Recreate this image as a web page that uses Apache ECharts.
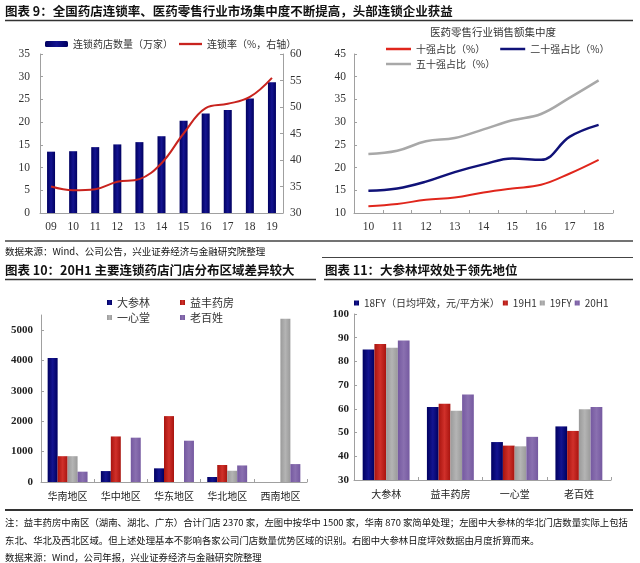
<!DOCTYPE html>
<html>
<head>
<meta charset="utf-8">
<script src="https://cdn.jsdelivr.net/npm/echarts@6/dist/echarts.min.js"></script>
<style>html,body{margin:0;padding:0;background:#fff;}#c{width:640px;height:563px;}</style>
</head>
<body>
<div id="c"></div>
<script>
// ---- Chart 9 (left): chain stores & chain rate ----
const years9 = ['09','10','11','12','13','14','15','16','17','18','19'];
const chainStores = [13.5, 13.6, 14.5, 15.1, 15.6, 16.9, 20.3, 21.9, 22.7, 25.2, 28.8];
const chainRate = [35.0, 34.3, 34.5, 35.9, 36.4, 39.4, 45.0, 49.8, 50.6, 51.9, 55.5];
// ---- Chart 9 (right): concentration ----
const years10 = ['10','11','12','13','14','15','16','17','18'];
const top10 = [11.5, 12.0, 12.9, 13.4, 14.5, 15.4, 16.2, 18.7, 21.7];
const top20 = [14.9, 15.4, 16.9, 19.0, 20.7, 22.0, 21.7, 26.8, 29.4];
const top50 = [23.0, 23.7, 25.8, 26.5, 28.4, 30.4, 31.8, 35.4, 39.2];
// ---- Chart 10: store distribution ----
const regions = ['华南地区','华中地区','华东地区','华北地区','西南地区'];
const dslStores = [4080, 360, 450, 165, 0];
const yfStores = [850, 1500, 2170, 560, 0];
const yxtStores = [850, 0, 0, 370, 5380];
const lbxStores = [340, 1460, 1360, 545, 590];
// ---- Chart 11: sales per sqm ----
const companies = ['大参林','益丰药房','一心堂','老百姓'];
const fy18 = [85.0, 60.8, 46.0, 52.6];
const h19 = [87.4, 62.2, 44.5, 50.7];
const fy19 = [85.8, 59.2, 44.2, 59.8];
const h20 = [88.8, 66.1, 48.2, 60.8];

const SERIF = 'Liberation Serif';
const SANS = 'Noto Sans CJK SC';
const axisLineC = '#a0a0a0';
const LINE_ICON = 'path://M0,0h40v4h-40z';

function grad(c1, c2) {
  return new echarts.graphic.LinearGradient(0, 0, 1, 0, [
    {offset: 0, color: c1}, {offset: 0.5, color: c2}, {offset: 1, color: c1}
  ]);
}
const navyG = grad('#000060', '#141490');
const redG = grad('#a8140f', '#d0302a');
const greyG = grad('#9a9a9a', '#b4b4b4');
const purpleG = grad('#7559a0', '#8a70b0');

function yAxisBase(extra) {
  return Object.assign({
    type: 'value',
    splitLine: {show: false},
    axisLine: {show: true, lineStyle: {color: axisLineC}},
    axisTick: {show: true, inside: true, length: 3, lineStyle: {color: axisLineC}},
    axisLabel: {fontFamily: SERIF, fontSize: 11, color: '#333', margin: 8}
  }, extra);
}
function xAxisBase(extra) {
  return Object.assign({
    type: 'category',
    axisLine: {show: true, lineStyle: {color: axisLineC}},
    axisTick: {show: true, inside: true, length: 3, lineStyle: {color: axisLineC}},
    axisLabel: {fontFamily: SERIF, fontSize: 11.5, color: '#333', margin: 8, interval: 0}
  }, extra);
}

const legText = {fontFamily: SANS, fontSize: 10, color: '#333'};
const plain = v => String(v);

const chart = echarts.init(document.getElementById('c'), null, {renderer: 'canvas'});
const option = {
  animation: false,
  backgroundColor: '#fff',
  grid: [
    {left: 40, right: 357, top: 54, bottom: 350},
    {left: 354, right: 27, top: 54, bottom: 350},
    {left: 41, right: 333, top: 315, bottom: 81},
    {left: 354, right: 29, top: 314, bottom: 83}
  ],
  xAxis: [
    xAxisBase({gridIndex: 0, data: years9, axisTick: {show: false}}),
    xAxisBase({gridIndex: 1, data: years10}),
    xAxisBase({gridIndex: 2, data: regions, axisLabel: {fontFamily: SANS, fontSize: 10, color: '#222', margin: 9, interval: 0}}),
    xAxisBase({gridIndex: 3, data: companies, axisLabel: {fontFamily: SANS, fontSize: 10, color: '#222', margin: 9, interval: 0}})
  ],
  yAxis: [
    yAxisBase({gridIndex: 0, min: 0, max: 35, interval: 5, axisLabel: {fontFamily: SERIF, fontSize: 11.5, color: '#333', margin: 10}}),
    yAxisBase({gridIndex: 0, min: 30, max: 60, interval: 5, position: 'right', axisLabel: {fontFamily: SERIF, fontSize: 11.5, color: '#333', margin: 7}}),
    yAxisBase({gridIndex: 1, min: 10, max: 45, interval: 5, axisLabel: {fontFamily: SERIF, fontSize: 11.5, color: '#333', margin: 8}}),
    yAxisBase({gridIndex: 2, min: 0, max: 5500, interval: 1000, axisLabel: {fontFamily: SERIF, fontSize: 11, fontWeight: 'bold', color: '#222', margin: 8, showMaxLabel: false, formatter: plain}}),
    yAxisBase({gridIndex: 3, min: 30, max: 100, interval: 10, axisLabel: {fontFamily: SERIF, fontSize: 11, fontWeight: 'bold', color: '#222', margin: 5, formatter: plain}})
  ],
  legend: [
    {data: [{name: '连锁药店数量（万家）', icon: 'roundRect'}, {name: '连锁率（%，右轴）', icon: LINE_ICON}], left: 40, top: 34, itemWidth: 23, itemHeight: 6, itemGap: 6, textStyle: legText},
    {data: [{name: '十强占比（%）', icon: LINE_ICON}, {name: '二十强占比（%）', icon: LINE_ICON}], left: 381, top: 39, itemWidth: 25, itemHeight: 6, itemGap: 15, textStyle: legText},
    {data: [{name: '五十强占比（%）', icon: LINE_ICON}], left: 381, top: 54, itemWidth: 25, itemHeight: 6, textStyle: legText},
    {data: ['大参林', '益丰药房'], left: 102, top: 292, itemWidth: 5, itemHeight: 5, itemGap: 30, icon: 'rect', textStyle: {fontFamily: SANS, fontSize: 11, color: '#333'}},
    {data: ['一心堂', '老百姓'], left: 102, top: 307, itemWidth: 5, itemHeight: 5, itemGap: 30, icon: 'rect', textStyle: {fontFamily: SANS, fontSize: 11, color: '#333'}},
    {data: ['18FY（日均坪效，元/平方米）', '19H1', '19FY', '20H1'], left: 349, top: 293, itemWidth: 5, itemHeight: 5, itemGap: 3, icon: 'rect', textStyle: {fontFamily: SANS, fontSize: 10, color: '#333'}}
  ],
  series: [
    {name: '连锁药店数量（万家）', type: 'bar', xAxisIndex: 0, yAxisIndex: 0, data: chainStores, barWidth: 8, itemStyle: {color: navyG}},
    {name: '连锁率（%，右轴）', type: 'line', xAxisIndex: 0, yAxisIndex: 1, data: chainRate, smooth: 0.4, symbol: 'none', lineStyle: {color: '#c8231e', width: 2}, itemStyle: {color: '#c8231e'}},
    {name: '十强占比（%）', type: 'line', xAxisIndex: 1, yAxisIndex: 2, data: top10, smooth: 0.4, symbol: 'none', lineStyle: {color: '#e0261c', width: 2}, itemStyle: {color: '#e0261c'}},
    {name: '二十强占比（%）', type: 'line', xAxisIndex: 1, yAxisIndex: 2, data: top20, smooth: 0.4, symbol: 'none', lineStyle: {color: '#101278', width: 2.5}, itemStyle: {color: '#101278'}},
    {name: '五十强占比（%）', type: 'line', xAxisIndex: 1, yAxisIndex: 2, data: top50, smooth: 0.4, symbol: 'none', lineStyle: {color: '#a8a8a8', width: 2.5}, itemStyle: {color: '#a8a8a8'}},
    {name: '大参林', type: 'bar', xAxisIndex: 2, yAxisIndex: 3, data: dslStores, barGap: '0%', barCategoryGap: '25%', itemStyle: {color: navyG}},
    {name: '益丰药房', type: 'bar', xAxisIndex: 2, yAxisIndex: 3, data: yfStores, barGap: '0%', barCategoryGap: '25%', itemStyle: {color: redG}},
    {name: '一心堂', type: 'bar', xAxisIndex: 2, yAxisIndex: 3, data: yxtStores, barGap: '0%', barCategoryGap: '25%', itemStyle: {color: greyG}},
    {name: '老百姓', type: 'bar', xAxisIndex: 2, yAxisIndex: 3, data: lbxStores, barGap: '0%', barCategoryGap: '25%', itemStyle: {color: purpleG}},
    {name: '18FY（日均坪效，元/平方米）', type: 'bar', xAxisIndex: 3, yAxisIndex: 4, data: fy18, barGap: '0%', barCategoryGap: '27%', itemStyle: {color: navyG}},
    {name: '19H1', type: 'bar', xAxisIndex: 3, yAxisIndex: 4, data: h19, barGap: '0%', barCategoryGap: '27%', itemStyle: {color: redG}},
    {name: '19FY', type: 'bar', xAxisIndex: 3, yAxisIndex: 4, data: fy19, barGap: '0%', barCategoryGap: '27%', itemStyle: {color: greyG}},
    {name: '20H1', type: 'bar', xAxisIndex: 3, yAxisIndex: 4, data: h20, barGap: '0%', barCategoryGap: '27%', itemStyle: {color: purpleG}}
  ],
  graphic: [
    {type: 'text', x: 5, y: 11, style: {text: '图表 9：全国药店连锁率、医药零售行业市场集中度不断提高，头部连锁企业获益', font: 'bold 12.5px "Noto Sans CJK SC"', fill: '#111', verticalAlign: 'middle'}},
    {type: 'line', shape: {x1: 5, y1: 20.5, x2: 633, y2: 20.5}, style: {stroke: '#333', lineWidth: 1.5}},
    {type: 'text', x: 493, y: 32, style: {text: '医药零售行业销售额集中度', font: '10.5px "Noto Sans CJK SC"', fill: '#333', align: 'center', verticalAlign: 'middle'}},
    {type: 'line', shape: {x1: 5, y1: 241, x2: 633, y2: 241}, style: {stroke: '#444', lineWidth: 1.5}},
    {type: 'text', x: 5, y: 251, style: {text: '数据来源：Wind、公司公告，兴业证券经济与金融研究院整理', font: '9.5px "Noto Sans CJK SC"', fill: '#111', verticalAlign: 'middle'}},
    {type: 'line', shape: {x1: 322, y1: 257.5, x2: 633, y2: 257.5}, style: {stroke: '#444', lineWidth: 1}},
    {type: 'text', x: 5, y: 270, style: {text: '图表 10：20H1 主要连锁药店门店分布区域差异较大', font: 'bold 12.5px "Noto Sans CJK SC"', fill: '#111', verticalAlign: 'middle'}},
    {type: 'text', x: 325, y: 270, style: {text: '图表 11：大参林坪效处于领先地位', font: 'bold 12.5px "Noto Sans CJK SC"', fill: '#111', verticalAlign: 'middle'}},
    {type: 'line', shape: {x1: 5, y1: 279.5, x2: 316, y2: 279.5}, style: {stroke: '#333', lineWidth: 1.5}},
    {type: 'line', shape: {x1: 324, y1: 279.5, x2: 633, y2: 279.5}, style: {stroke: '#333', lineWidth: 1.5}},
    {type: 'line', shape: {x1: 5, y1: 510, x2: 633, y2: 510}, style: {stroke: '#333', lineWidth: 2}},
    {type: 'text', x: 5, y: 522, style: {text: '注：益丰药房中南区（湖南、湖北、广东）合计门店 2370 家，左图中按华中 1500 家，华南 870 家简单处理；左图中大参林的华北门店数量实际上包括', font: '9.4px "Noto Sans CJK SC"', fill: '#111', verticalAlign: 'middle'}},
    {type: 'text', x: 5, y: 540, style: {text: '东北、华北及西北区域。但上述处理基本不影响各家公司门店数量优势区域的识别。右图中大参林日度坪效数据由月度折算而来。', font: '9.4px "Noto Sans CJK SC"', fill: '#111', verticalAlign: 'middle'}},
    {type: 'text', x: 5, y: 557, style: {text: '数据来源：Wind，公司年报，兴业证券经济与金融研究院整理', font: '9.4px "Noto Sans CJK SC"', fill: '#111', verticalAlign: 'middle'}}
  ]
};
chart.setOption(option);
</script>
</body>
</html>
